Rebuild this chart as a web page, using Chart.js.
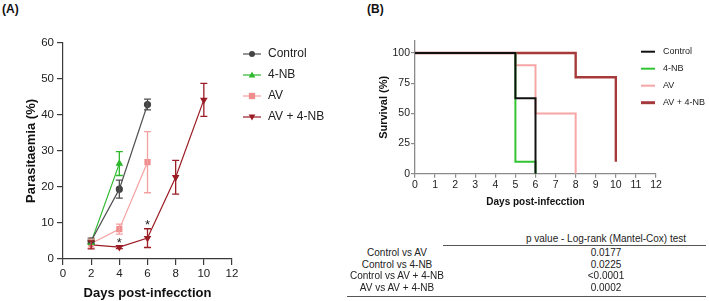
<!DOCTYPE html>
<html><head><meta charset="utf-8">
<script src="https://cdn.jsdelivr.net/npm/chart.js@4/dist/chart.umd.min.js"></script>
<style>
html,body{margin:0;padding:0;background:#fff;width:709px;height:301px;overflow:hidden;font-family:"Liberation Sans",Arial,sans-serif;}
canvas{position:absolute;}
.lab{position:absolute;font-weight:bold;font-size:12px;line-height:14px;color:#111;}
.t{position:absolute;font-size:10px;line-height:12px;color:#222;white-space:nowrap;transform:translate(-50%,-50%);}
.hl{position:absolute;height:1px;background:#555;}
</style></head><body>
<div class="lab" style="left:2px;top:2px">(A)</div>
<div class="lab" style="left:367px;top:2px">(B)</div>
<canvas id="cA" width="360" height="301" style="left:0;top:0"></canvas>
<canvas id="cB" width="349" height="213" style="left:360px;top:0"></canvas>
<div id="tbl"></div>
<script>
// ---------- Panel A data ----------
const daysCtrl = [2, 4, 6];
const ctrlMean = [5.0, 19.4, 42.9];
const ctrlErr  = [0.8, 2.5, 1.5];
const daysNB = [2, 4];
const nbMean = [4.7, 26.5];
const nbErr  = [0.6, 3.3];
const daysAV = [2, 4, 6];
const avMean = [4.3, 8.3, 26.9];
const avErr  = [1.2, 1.4, 8.5];
const daysCombo = [2, 4, 6, 8, 10];
const comboMean = [3.9, 3.3, 5.8, 22.7, 44.2];
const comboErr  = [1.1, 0.4, 2.6, 4.7, 4.6];
const starDays = [4, 6];
const starVals = [5.0, 9.9];
const seriesNamesA = ["Control", "4-NB", "AV", "AV + 4-NB"];
const xTicksA = [0, 2, 4, 6, 8, 10, 12];
const yTicksA = [0, 10, 20, 30, 40, 50, 60];

// ---------- Panel B data (Kaplan-Meier: event times and survival after event) ----------
const kmCtrlT  = [0, 5, 6];      const kmCtrlS  = [100, 62.5, 0];
const kmNBT    = [0, 5, 6];      const kmNBS    = [100, 10, 0];
const kmAVT    = [0, 5, 6, 8];   const kmAVS    = [100, 90, 50, 0];
const kmComboT = [0, 8, 10];     const kmComboS = [100, 80, 10];
const seriesNamesB = ["Control", "4-NB", "AV", "AV + 4-NB"];
const xTicksB = [0,1,2,3,4,5,6,7,8,9,10,11,12];
const yTicksB = [0, 25, 50, 75, 100];

// ---------- Table ----------
const cmpNames = ["Control vs AV", "Control vs 4-NB", "Control vs AV + 4-NB", "AV vs AV + 4-NB"];
const pValues  = ["0.0177", "0.0225", "<0.0001", "0.0002"];
const tableHeader = "p value - Log-rank (Mantel-Cox) test";

const FONT = '"Liberation Sans", Arial, sans-serif';

function pts(xs, ys){ return xs.map((x,i)=>({x:x, y:ys[i]})); }
function steps(ts, ss){
  const out=[{x:ts[0], y:ss[0]}];
  for(let i=1;i<ts.length;i++){ out.push({x:ts[i], y:ss[i-1]}); out.push({x:ts[i], y:ss[i]}); }
  return out;
}
function marker(ctx, style, x, y, r, rot){
  ctx.beginPath();
  if(style==='circle'){ ctx.arc(x,y,r,0,Math.PI*2); }
  else if(style==='rect'){ ctx.rect(x-r*0.9,y-r*0.9,r*1.8,r*1.8); }
  else if(style==='triangle'){
    const s = rot===180 ? -1 : 1;
    ctx.moveTo(x, y - s*r*1.1); ctx.lineTo(x + r*1.05, y + s*r*0.75); ctx.lineTo(x - r*1.05, y + s*r*0.75); ctx.closePath();
  }
  ctx.fill();
}

const errPlugin = {
  id:'errbars',
  afterDatasetsDraw(chart){
    const ctx=chart.ctx, xs=chart.scales.x, ys=chart.scales.y;
    chart.data.datasets.forEach(ds=>{
      if(!ds.errors) return;
      ctx.save(); ctx.strokeStyle=ds.errColor||ds.borderColor; ctx.lineWidth=1.3;
      ds.data.forEach((p,j)=>{
        const e=ds.errors[j]; const x=xs.getPixelForValue(p.x);
        const y1=ys.getPixelForValue(p.y+e), y2=ys.getPixelForValue(p.y-e);
        ctx.beginPath(); ctx.moveTo(x,y1); ctx.lineTo(x,y2);
        ctx.moveTo(x-3.5,y1); ctx.lineTo(x+3.5,y1);
        ctx.moveTo(x-3.5,y2); ctx.lineTo(x+3.5,y2); ctx.stroke();
      });
      ctx.restore();
    });
  }
};
const starPlugin = {
  id:'stars',
  afterDatasetsDraw(chart, args, opts){
    if(!opts.xs) return;
    const ctx=chart.ctx, xs=chart.scales.x, ys=chart.scales.y;
    ctx.save(); ctx.fillStyle='#222'; ctx.font='13px '+FONT; ctx.textAlign='center'; ctx.textBaseline='alphabetic';
    opts.xs.forEach((d,i)=>{ ctx.fillText('*', xs.getPixelForValue(d), ys.getPixelForValue(opts.ys[i])+6); });
    ctx.restore();
  }
};
const legendPlugin = {
  id:'customLegend',
  afterDraw(chart, args, o){
    if(!o.x0) return;
    const ctx=chart.ctx;
    chart.data.datasets.forEach((ds,i)=>{
      const y=o.y0+i*o.dy;
      ctx.save();
      ctx.strokeStyle=ds.borderColor; ctx.lineWidth=o.lw?o.lw[i]:ds.borderWidth;
      ctx.beginPath(); ctx.moveTo(o.x0,y); ctx.lineTo(o.x1,y); ctx.stroke();
      if(o.markers){ ctx.fillStyle=ds.pointBackgroundColor; marker(ctx, ds.pointStyle, (o.x0+o.x1)/2, y, ds.pointRadius, ds.pointRotation||0); }
      ctx.fillStyle=o.color; ctx.font=o.font; ctx.textBaseline='middle'; ctx.textAlign='left';
      ctx.fillText(ds.label, o.tx, y);
      ctx.restore();
    });
  }
};
Chart.register(errPlugin, starPlugin, legendPlugin);

const colA = {ctrl:'#505050', nb:'#2db82d', av:'#f4a0a0', avPt:'#f08c8c', combo:'#9b1c24'};
const axA = '#3a3a3a';

new Chart(document.getElementById('cA'), {
  type:'line',
  data:{ datasets:[
    {label:seriesNamesA[0], data:pts(daysCtrl,ctrlMean), errors:ctrlErr, borderColor:colA.ctrl, backgroundColor:colA.ctrl, pointBackgroundColor:'#444', pointBorderColor:'#444', pointStyle:'circle', pointRadius:3, borderWidth:1.2},
    {label:seriesNamesA[1], data:pts(daysNB,nbMean), errors:nbErr, borderColor:colA.nb, backgroundColor:colA.nb, pointBackgroundColor:colA.nb, pointBorderColor:colA.nb, pointStyle:'triangle', pointRadius:3.2, borderWidth:1.2},
    {label:seriesNamesA[2], data:pts(daysAV,avMean), errors:avErr, borderColor:colA.av, backgroundColor:colA.av, pointBackgroundColor:colA.avPt, pointBorderColor:colA.avPt, pointStyle:'rect', pointRadius:3.5, borderWidth:1.2},
    {label:seriesNamesA[3], data:pts(daysCombo,comboMean), errors:comboErr, borderColor:colA.combo, backgroundColor:colA.combo, pointBackgroundColor:colA.combo, pointBorderColor:colA.combo, pointStyle:'triangle', pointRotation:180, pointRadius:3.2, borderWidth:1.2}
  ]},
  options:{
    responsive:false, animation:false, devicePixelRatio:1,
    layout:{padding:{left:0, right:128, top:43, bottom:0}},
    plugins:{ legend:{display:false}, tooltip:{enabled:false},
      stars:{xs:starDays, ys:starVals},
      customLegend:{x0:243, x1:261, tx:268, y0:54, dy:21, markers:true, color:'#222', font:'12px '+FONT}
    },
    elements:{ line:{tension:0} },
    scales:{
      x:{ type:'linear', min:0, max:12,
        afterBuildTicks:s=>{ s.ticks = xTicksA.map(v=>({value:v})); },
        afterFit:s=>{ s.height=42; },
        grid:{drawOnChartArea:false, drawTicks:true, tickLength:6, color:axA, lineWidth:1.2},
        border:{display:true, color:axA, width:1.2},
        ticks:{color:'#222', font:{family:FONT, size:11.5}, padding:2, maxRotation:0},
        title:{display:true, text:'Days post-infecction', color:'#111', font:{family:FONT, size:13, weight:'bold'}, padding:{top:0,bottom:0}}
      },
      y:{ type:'linear', min:0, max:60,
        afterBuildTicks:s=>{ s.ticks = yTicksA.map(v=>({value:v})); },
        afterFit:s=>{ s.width=63; },
        grid:{drawOnChartArea:false, drawTicks:true, tickLength:6, color:axA, lineWidth:1.2},
        border:{display:true, color:axA, width:1.2},
        ticks:{color:'#222', font:{family:FONT, size:11.5}, padding:3},
        title:{display:true, text:'Parasitaemia (%)', color:'#111', font:{family:FONT, size:13, weight:'bold'}, padding:{top:24,bottom:0}}
      }
    }
  }
});

const colB = {ctrl:'#111111', nb:'#33c433', av:'#f7a6a6', combo:'#a63a3a'};
const axB = '#8a8a8a';
new Chart(document.getElementById('cB'), {
  type:'line',
  data:{ datasets:[
    {label:seriesNamesB[0], data:steps(kmCtrlT,kmCtrlS), borderColor:colB.ctrl, borderWidth:2, pointRadius:0},
    {label:seriesNamesB[1], data:steps(kmNBT,kmNBS), borderColor:colB.nb, borderWidth:2, pointRadius:0},
    {label:seriesNamesB[2], data:steps(kmAVT,kmAVS), borderColor:colB.av, borderWidth:2, pointRadius:0},
    {label:seriesNamesB[3], data:steps(kmComboT,kmComboS), borderColor:colB.combo, borderWidth:2.4, pointRadius:0}
  ]},
  options:{
    responsive:false, animation:false, devicePixelRatio:1,
    layout:{padding:{left:0, right:53, top:41, bottom:0}},
    plugins:{ legend:{display:false}, tooltip:{enabled:false},
      customLegend:{x0:281, x1:295, tx:303, y0:51.7, dy:17, lw:[2,2,2,3], markers:false, color:'#222', font:'9px '+FONT}
    },
    elements:{ line:{tension:0, borderCapStyle:'butt', borderJoinStyle:'miter'} },
    scales:{
      x:{ type:'linear', min:0, max:12,
        afterBuildTicks:s=>{ s.ticks = xTicksB.map(v=>({value:v})); },
        afterFit:s=>{ s.height=39.3; },
        grid:{drawOnChartArea:false, drawTicks:true, tickLength:4, color:axB, lineWidth:1.2},
        border:{display:true, color:axB, width:1.3},
        ticks:{color:'#222', font:{family:FONT, size:10.5}, padding:1, maxRotation:0, autoSkip:false},
        title:{display:true, text:'Days post-infecction', color:'#111', font:{family:FONT, size:10, weight:'bold'}, padding:{top:0,bottom:5}}
      },
      y:{ type:'linear', min:0, max:110,
        afterBuildTicks:s=>{ s.ticks = yTicksB.map(v=>({value:v})); },
        afterFit:s=>{ s.width=55; },
        grid:{drawOnChartArea:false, drawTicks:true, tickLength:4, color:axB, lineWidth:1.2},
        border:{display:true, color:axB, width:1.3},
        ticks:{color:'#222', font:{family:FONT, size:10.5}, padding:1},
        title:{display:true, text:'Survival (%)', color:'#111', font:{family:FONT, size:11, weight:'bold'}, padding:{top:17,bottom:0}}
      }
    }
  }
});

// table built from arrays
(function(){
  const tbl=document.getElementById('tbl');
  const rowY=[253, 264.5, 276, 287.5];
  let h='';
  h+=`<div class="t" style="left:606px;top:239px">${tableHeader}</div>`;
  h+=`<div class="hl" style="left:443px;top:245px;width:263px"></div>`;
  cmpNames.forEach((n,i)=>{
    h+=`<div class="t" style="left:397px;top:${rowY[i]}px">${n}</div>`;
    h+=`<div class="t" style="left:606px;top:${rowY[i]}px">${pValues[i].replace('<','&lt;')}</div>`;
  });
  h+=`<div class="hl" style="left:347px;top:296px;width:359px"></div>`;
  tbl.innerHTML=h;
})();
</script>
</body></html>
